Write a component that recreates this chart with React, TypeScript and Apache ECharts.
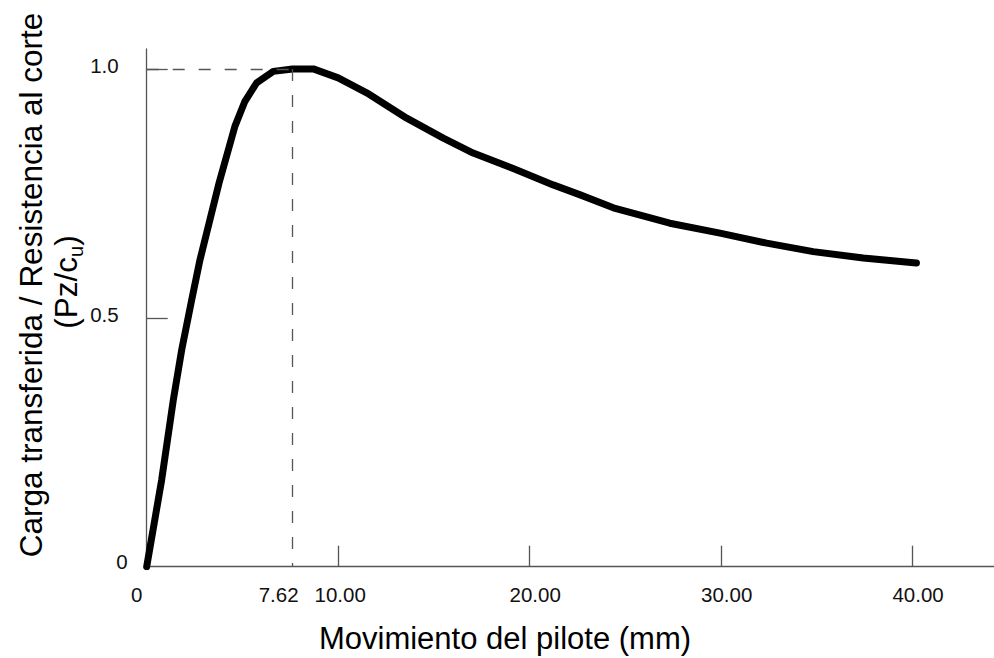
import { useEffect, useRef } from "react";
import * as echarts from "echarts";

// Pile movement (mm) and transferred load ratio (Pz/cu)
const movement = [0, 0.78, 1.39, 1.83, 2.35, 2.78, 3.78, 4.61, 5.13, 5.74, 6.61, 7.62, 8.7, 10.0, 11.49, 13.58, 15.49, 17.05, 19.14, 21.23, 22.64, 24.37, 27.32, 29.94, 32.38, 34.81, 37.42, 40.2];
const loadRatio = [0, 0.174, 0.335, 0.436, 0.536, 0.616, 0.771, 0.885, 0.935, 0.972, 0.995, 1.0, 1.0, 0.982, 0.952, 0.901, 0.861, 0.831, 0.8, 0.767, 0.747, 0.721, 0.69, 0.67, 0.65, 0.633, 0.62, 0.61];

const xLabelValues = [0, 7.62, 10, 20, 30, 40];
const xTickValues = [10, 20, 30, 40];
const yLabelValues = [0, 0.5, 1];
const yTickValues = [0.5, 1];
const peakMovement = 7.62;
const peakRatio = 1.0;

const xTitle = "Movimiento del pilote (mm)";
const yTitle = "Carga transferida / Resistencia al corte";
const yTitle2 = "(Pz/c{u|u})";

export default function App() {
  const ref = useRef<HTMLDivElement>(null);
  useEffect(() => {
    const chart = echarts.init(ref.current!, null, { renderer: "svg" });
    const font = "Liberation Sans, Arial, Helvetica, sans-serif";
    chart.setOption({
      animation: false,
      backgroundColor: "#ffffff",
      grid: { left: 146.7, top: 49, right: 0, bottom: 91.3, containLabel: false },
      xAxis: {
        type: "value",
        min: 0,
        max: 44.25,
        axisLine: { lineStyle: { color: "#555", width: 1.3 } },
        axisTick: { inside: true, length: 21, customValues: xTickValues, lineStyle: { color: "#555", width: 1.3 } },
        axisLabel: {
          customValues: xLabelValues,
          margin: 17,
          fontSize: 20.5,
          fontFamily: font,
          color: "#111",
          formatter: (v: number) => {
            if (v === 0) return "{a|0}";
            if (Math.abs(v - 7.62) < 1e-6) return "{b|7.62}";
            if (v === 10) return "{c|10.00}";
            return "{d|" + v.toFixed(2) + "}";
          },
          rich: {
            a: { fontSize: 20.5, fontFamily: font, color: "#111", padding: [0, 20, 0, 0] },
            b: { fontSize: 20.5, fontFamily: font, color: "#111", padding: [0, 28, 0, 0] },
            c: { fontSize: 20.5, fontFamily: font, color: "#111", padding: [0, 0, 0, 4] },
            d: { fontSize: 20.5, fontFamily: font, color: "#111", padding: [0, 0, 0, 11] },
          },
        },
        splitLine: { show: false },
      },
      yAxis: {
        type: "value",
        min: 0,
        max: 1.04,
        axisLine: { show: true, lineStyle: { color: "#555", width: 1.3 } },
        axisTick: { show: true, inside: true, length: 21, customValues: yTickValues, lineStyle: { color: "#555", width: 1.3 } },
        axisLabel: {
          customValues: yLabelValues,
          margin: 19,
          fontSize: 20.5,
          fontFamily: font,
          color: "#111",
          formatter: (v: number) => (v === 0 ? "{z|0}" : "{n|" + v.toFixed(1) + "}"),
          rich: {
            z: { fontSize: 20.5, fontFamily: font, color: "#111", padding: [0, 0, 10, 0] },
            n: { fontSize: 20.5, fontFamily: font, color: "#111", padding: [0, 9, 6, 0] },
          },
        },
        splitLine: { show: false },
      },
      series: [
        {
          type: "line",
          data: movement.map((x, i) => [x, loadRatio[i]]),
          showSymbol: false,
          lineStyle: { color: "#000", width: 7, cap: "round", join: "round" },
          z: 3,
          markLine: {
            silent: true,
            symbol: ["none", "none"],
            label: { show: false },
            lineStyle: { type: [12, 14], color: "#555", width: 1.3 },
            data: [
              [{ coord: [0, peakRatio] }, { coord: [peakMovement, peakRatio] }],
              [{ coord: [peakMovement, peakRatio] }, { coord: [peakMovement, 0] }],
            ],
          },
        },
      ],
      graphic: [
        {
          type: "text",
          x: 31,
          y: 285,
          rotation: Math.PI / 2,
          style: { text: yTitle, fontSize: 31.5, fontFamily: font, fill: "#000", align: "center", verticalAlign: "middle" },
        },
        {
          type: "text",
          x: 66,
          y: 282,
          rotation: Math.PI / 2,
          style: {
            text: yTitle2,
            fontSize: 31.5,
            fontFamily: font,
            fill: "#000",
            align: "center",
            verticalAlign: "middle",
            rich: { u: { fontSize: 20, fontFamily: font, fill: "#000", lineHeight: 20, padding: [20, 0, 0, 0] } },
          },
        },
        {
          type: "text",
          x: 505,
          y: 638,
          style: { text: xTitle, fontSize: 31, fontFamily: font, fill: "#000", align: "center", verticalAlign: "middle" },
        },
      ],
    });
    return () => chart.dispose();
  }, []);
  return <div ref={ref} style={{ position: "fixed", left: 0, top: 0, width: 994, height: 658, background: "#fff" }} />;
}
